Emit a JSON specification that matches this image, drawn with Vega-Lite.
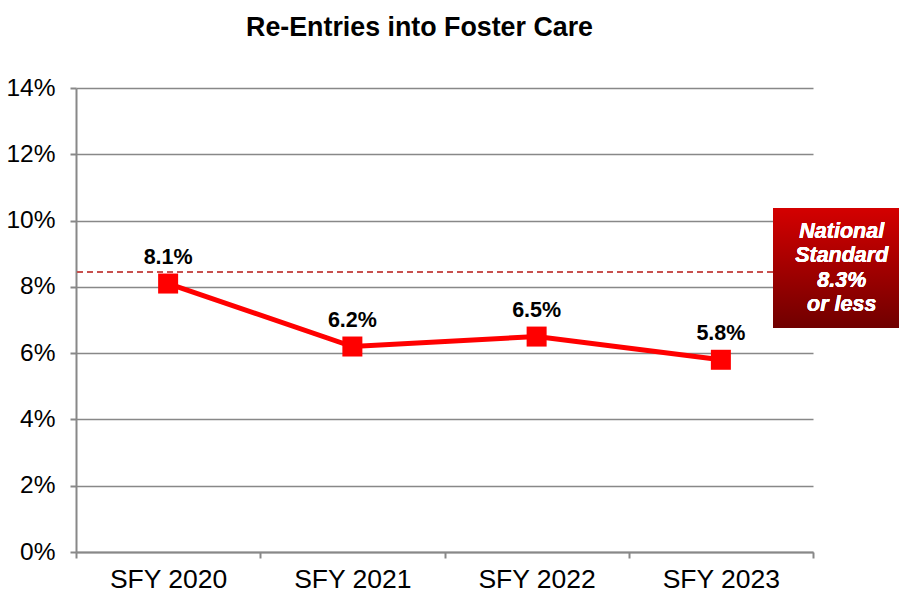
{
  "$schema": "https://vega.github.io/schema/vega-lite/v6.json",
  "autosize": {"type": "none"},
  "width": 737,
  "height": 464,
  "padding": {"left": 76, "top": 88, "right": 86, "bottom": 44},
  "background": "white",
  "config": {
    "font": "Liberation Sans",
    "view": {"stroke": null}
  },
  "title": {
    "text": "Re-Entries into Foster Care",
    "font": "Liberation Sans",
    "fontSize": 26.8,
    "fontWeight": "bold",
    "color": "#000000",
    "anchor": "middle",
    "frame": "group",
    "dx": -25,
    "offset": 33
  },
  "data": {
    "values": [
      {"year": "SFY 2020", "rate": 8.1, "label": "8.1%"},
      {"year": "SFY 2021", "rate": 6.2, "label": "6.2%"},
      {"year": "SFY 2022", "rate": 6.5, "label": "6.5%"},
      {"year": "SFY 2023", "rate": 5.8, "label": "5.8%"}
    ]
  },
  "resolve": {"scale": {"x": "independent"}, "axis": {"x": "independent"}},
  "layer": [
    {
      "layer": [
        {
          "mark": {"type": "rule", "color": "#c8504d", "strokeWidth": 1.5, "strokeDash": [6, 4]},
          "encoding": {"y": {"datum": 8.45, "type": "quantitative"}}
        },
        {
          "layer": [
            {
              "mark": {"type": "line", "color": "#ff0000", "strokeWidth": 5},
              "encoding": {
                "x": {"field": "year", "type": "nominal", "bandPosition": 0.5},
                "y": {"field": "rate", "type": "quantitative"}
              }
            },
            {
              "mark": {"type": "point", "shape": "square", "filled": true, "opacity": 1, "color": "#ff0000", "size": 400},
              "encoding": {
                "x": {"field": "year", "type": "nominal", "bandPosition": 0.5},
                "y": {"field": "rate", "type": "quantitative"}
              }
            },
            {
              "mark": {"type": "text", "fontSize": 21.5, "fontWeight": "bold", "color": "#000000", "dy": -26},
              "encoding": {
                "x": {"field": "year", "type": "nominal", "bandPosition": 0.5},
                "y": {"field": "rate", "type": "quantitative"},
                "text": {"field": "label"}
              }
            }
          ],
          "encoding": {
            "x": {
              "field": "year",
              "type": "nominal",
              "scale": {"type": "band", "paddingInner": 0, "paddingOuter": 0},
              "axis": {
                "title": null,
                "labelAngle": 0,
                "labelFontSize": 26.5,
                "labelColor": "#000000",
                "labelPadding": 8,
                "tickBand": "extent",
                "tickSize": 6,
                "tickColor": "#888888",
                "tickWidth": 2,
                "domainColor": "#888888",
                "domainWidth": 2,
                "grid": false
              }
            }
          }
        }
      ],
      "encoding": {
        "y": {
          "type": "quantitative",
          "scale": {"domain": [0, 14]},
          "axis": {
            "title": null,
            "values": [0, 2, 4, 6, 8, 10, 12, 14],
            "labelExpr": "datum.value + '%'",
            "labelFontSize": 24.5,
            "labelColor": "#000000",
            "labelPadding": 15,
            "tickSize": 6,
            "tickColor": "#888888",
            "tickWidth": 2,
            "domainColor": "#888888",
            "domainWidth": 2,
            "grid": true,
            "gridColor": "#888888",
            "gridWidth": 1.5
          }
        }
      }
    },
    {
      "layer": [
        {
          "mark": {
            "type": "rect",
            "fill": {
              "gradient": "linear",
              "x1": 0, "y1": 0, "x2": 0, "y2": 1,
              "stops": [
                {"offset": 0, "color": "#d40000"},
                {"offset": 1, "color": "#700000"}
              ]
            }
          },
          "encoding": {
            "x": {"datum": 0.946, "type": "quantitative", "scale": {"domain": [0, 1]}, "axis": null},
            "x2": {"datum": 1.125},
            "y": {"datum": 10.38, "type": "quantitative"},
            "y2": {"datum": 6.76}
          }
        },
        {
          "mark": {
            "type": "text",
            "color": "#ffffff",
            "fontSize": 21.5,
            "fontWeight": "bold",
            "fontStyle": "italic",
            "lineBreak": "\n",
            "lineHeight": 24.5,
            "align": "center",
            "baseline": "middle"
          },
          "encoding": {
            "x": {"datum": 1.039, "type": "quantitative", "scale": {"domain": [0, 1]}, "axis": null},
            "y": {"datum": 9.66, "type": "quantitative"},
            "text": {"value": "National\nStandard\n8.3%\nor less"}
          }
        }
      ]
    }
  ]
}
